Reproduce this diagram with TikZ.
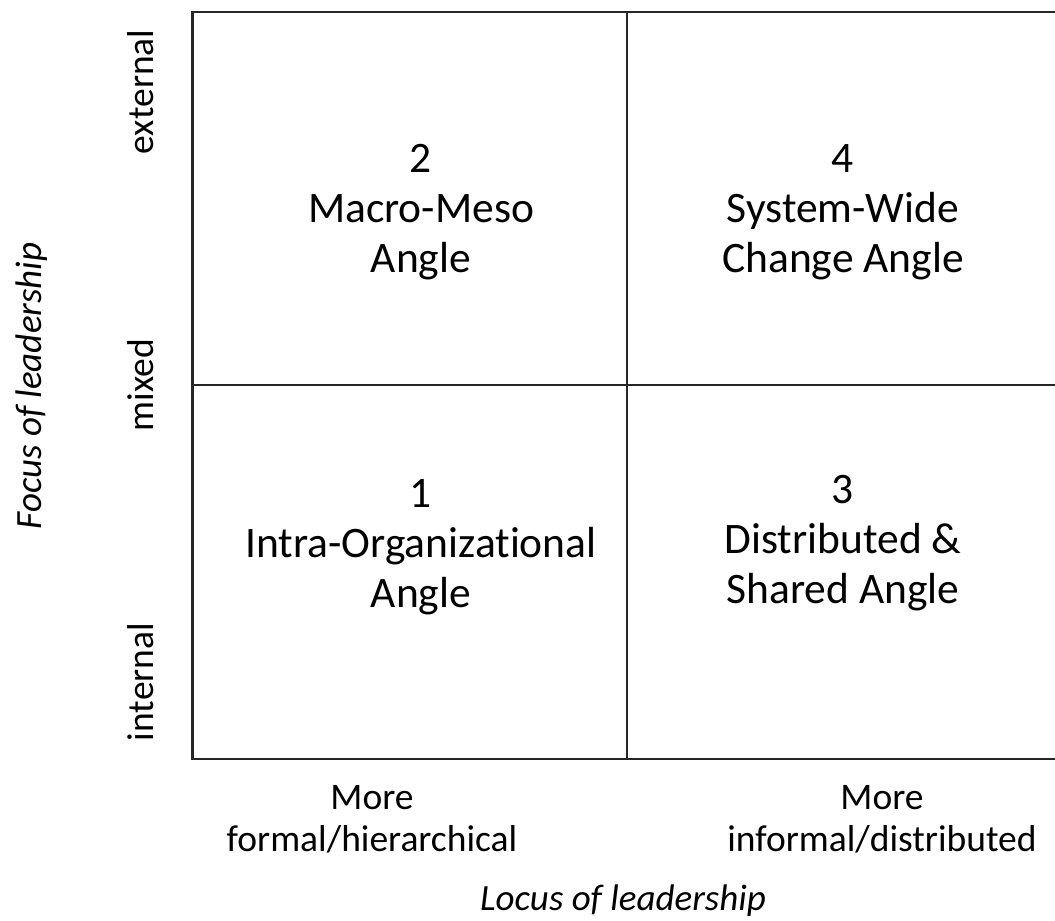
\documentclass[tikz,border=0pt]{standalone}
\usepackage{fontspec}
\setmainfont[Ligatures=NoCommon]{Carlito}
\begin{document}
\begin{tikzpicture}[x=1pt,y=-1pt,
  grid/.style={line width=2.2pt, draw=black!85},
  celltext/.style={anchor=base, inner sep=0pt, font=\fontsize{43.5}{50}\selectfont},
  sidelabel/.style={anchor=base, inner sep=0pt, rotate=90, font=\fontsize{37.5}{44}\selectfont},
  botlabel/.style={anchor=base, inner sep=0pt, font=\fontsize{37.5}{44}\selectfont},
  axislabel/.style={anchor=base, inner sep=0pt, font=\fontsize{37}{44}\selectfont\itshape}]
\useasboundingbox (0,0) rectangle (1055,921);
\clip (0,0) rectangle (1055,921);
% frame and grid
\coordinate (tl) at (192.5,12);
\coordinate (br) at (1062,759);
\draw[grid] (tl) rectangle (br);
\draw[grid] (627,12) -- (627,759);
\draw[grid] (192.5,385) -- (1062,385);
% cell 2 (top left)
\node[celltext] (c2a) at (421,172) {2};
\node[celltext] (c2b) at (421,222) {Macro-Meso};
\node[celltext] (c2c) at (421,272) {Angle};
% cell 4 (top right)
\node[celltext] (c4a) at (843,172) {4};
\node[celltext] (c4b) at (843,222) {System-Wide};
\node[celltext] (c4c) at (843,272) {Change Angle};
% cell 1 (bottom left)
\node[celltext] (c1a) at (421,507) {1};
\node[celltext] (c1b) at (421,557) {Intra-Organizational};
\node[celltext] (c1c) at (421,607) {Angle};
% cell 3 (bottom right)
\node[celltext] (c3a) at (843,503) {3};
\node[celltext] (c3b) at (843,553) {Distributed \&};
\node[celltext] (c3c) at (843,603) {Shared Angle};
% side labels
\node[sidelabel] (ext) at (153,92) {external};
\node[sidelabel] (mix) at (153,385) {mixed};
\node[sidelabel] (int) at (153,682) {internal};
\node[axislabel, rotate=90] (focus) at (41,386) {Focus of leadership};
% bottom labels
\node[botlabel] (m1) at (372,809) {More};
\node[botlabel] (m2) at (372,851) {formal/hierarchical};
\node[botlabel] (m3) at (882,809) {More};
\node[botlabel] (m4) at (882,851) {informal/distributed};
\node[axislabel] (locus) at (623,910) {Locus of leadership};
\end{tikzpicture}
\end{document}
